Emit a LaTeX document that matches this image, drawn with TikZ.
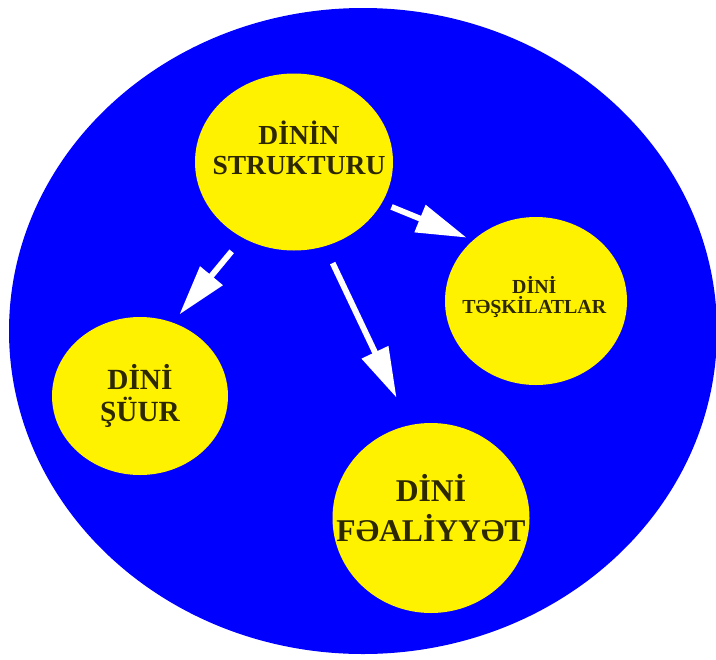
\documentclass[tikz,border=0pt]{standalone}
\usepackage{fontspec}
\setmainfont{Liberation Serif}
\usetikzlibrary{arrows.meta, positioning, shapes.geometric}
\definecolor{inkdark}{RGB}{45,40,0}

\begin{document}
\begin{tikzpicture}[
        node distance = 4cm, on grid,
        >= {Triangle[length = 43pt, width = 24pt]},
        ball/.style = {ellipse, fill = yellow, inner sep = 0pt, outer sep = 0pt},
        caption/.style = {text = inkdark, align = center, inner sep = 0pt},
        pointer/.style = {->, draw = white, line width = 5pt}
    ]
      \useasboundingbox (0,0) rectangle (21.48,-19.77);
      \fill[blue] (10.89,-9.93) ellipse [x radius = 10.62, y radius = 9.69];

      \node[ball, minimum width = 5.94cm, minimum height = 5.31cm,
            label = {[caption, font = \bfseries\fontsize{23.5}{26}\selectfont, xshift = 0.15cm, yshift = 0.42cm]center:DİNİN\\STRUKTURU}]
            (str) at (8.82,-4.86) {};
      \node[ball, minimum width = 5.46cm, minimum height = 5.04cm,
            label = {[caption, font = \bfseries\fontsize{17}{17.5}\selectfont, xshift = -0.05cm, yshift = 0.12cm]center:DİNİ\\TƏŞKİLATLAR}]
            (org) [below right = 4.17cm and 7.26cm of str] {};
      \node[ball, minimum width = 5.28cm, minimum height = 4.74cm,
            label = {[caption, font = \bfseries\fontsize{25}{28}\selectfont]center:DİNİ\\ŞÜUR}]
            (suur) [below left = 7.02cm and 4.62cm of str] {};
      \node[ball, minimum width = 5.91cm, minimum height = 5.7cm,
            label = {[caption, font = \bfseries\fontsize{27}{34}\selectfont, yshift = 0.3cm]center:DİNİ\\FƏALİYYƏT}]
            (feal) [below right = 10.68cm and 4.11cm of str] {};

      \draw[pointer, shorten < = 9pt, shorten > = 6pt] (str.-25) -- (org.136);
      \draw[pointer, shorten < = 15pt, shorten > = 9pt] (str.-124) -- (suur.66);
      \draw[pointer, shorten < = 16pt, shorten > = 26pt] (str.-70) -- (feal.103.5);
    \end{tikzpicture}
\end{document}
